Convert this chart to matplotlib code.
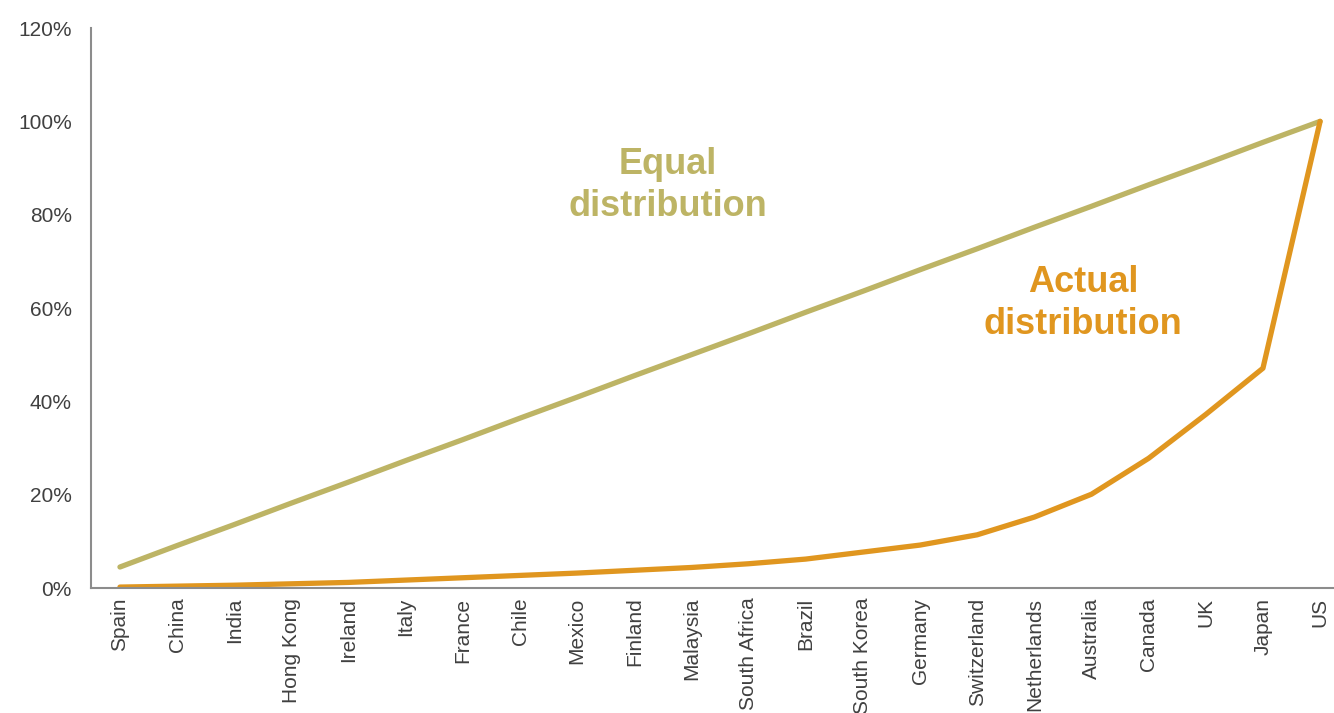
import numpy as np
import matplotlib.pyplot as plt
from matplotlib.ticker import PercentFormatter

plt.rcParams['font.family'] = ['Liberation Sans', 'DejaVu Sans']

countries = ['Spain', 'China', 'India', 'Hong Kong', 'Ireland', 'Italy', 'France',
             'Chile', 'Mexico', 'Finland', 'Malaysia', 'South Africa', 'Brazil',
             'South Korea', 'Germany', 'Switzerland', 'Netherlands', 'Australia',
             'Canada', 'UK', 'Japan', 'US']
# cumulative share, equal split vs actual
equal_dist = [4.5, 9.1, 13.6, 18.2, 22.7, 27.3, 31.8, 36.4, 40.9, 45.5, 50.0,
              54.5, 59.1, 63.6, 68.2, 72.7, 77.3, 81.8, 86.4, 90.9, 95.5, 100.0]
actual_dist = [0.2, 0.4, 0.6, 0.9, 1.2, 1.7, 2.2, 2.7, 3.2, 3.8, 4.4,
               5.2, 6.2, 7.7, 9.2, 11.4, 15.2, 20.1, 27.8, 37.2, 47.1, 100.0]

khaki = '#BDB465'
orange = '#E0961F'

fig = plt.figure(figsize=(13.34, 7.13), dpi=100)
ax = fig.add_axes([0.0685, 0.1753, 0.9425, 0.7854])

x = np.arange(len(countries))
ax.plot(x, equal_dist, color=khaki, lw=3.8, solid_capstyle='round')
ax.plot(x, actual_dist, color=orange, lw=3.8, solid_capstyle='round')

ax.set_xlim(-0.5, len(countries) - 0.5)
ax.set_ylim(0, 120)
ax.set_yticks(range(0, 121, 20))
ax.yaxis.set_major_formatter(PercentFormatter(decimals=0))
ax.set_xticks(x)
ax.set_xticklabels(countries, rotation=90, va='top', ha='center')
ax.tick_params(length=0, labelsize=15, colors='#404040')
ax.tick_params(axis='y', pad=14)
ax.tick_params(axis='x', pad=7)

for s in ['top', 'right']:
    ax.spines[s].set_visible(False)
for s in ['left', 'bottom']:
    ax.spines[s].set_color('#8C8C8C')
    ax.spines[s].set_linewidth(1.5)

ax.text(9.59, 86.3, 'Equal\ndistribution', color=khaki, fontsize=26,
        fontweight='bold', ha='center', va='center', linespacing=1.25)
ax.text(16.85, 61.0, 'Actual\ndistribution', color=orange, fontsize=26,
        fontweight='bold', ha='center', va='center', linespacing=1.25)

fig.savefig('out.png', dpi=100)
